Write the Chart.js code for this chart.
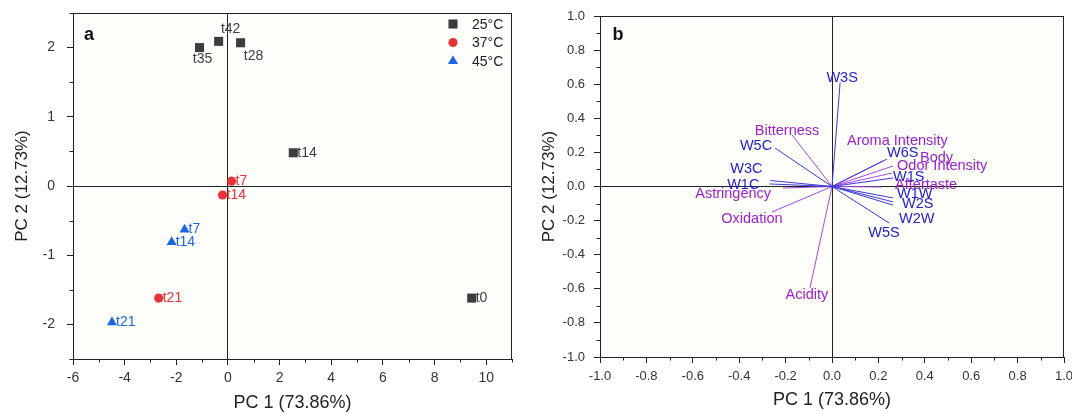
<!DOCTYPE html>
<html>
<head>
<meta charset="utf-8">
<script src="https://cdn.jsdelivr.net/npm/chart.js@4.4.1/dist/chart.umd.min.js"></script>
<style>
  body { margin: 0; background: #fff; width: 1072px; height: 414px; overflow: hidden; position: relative; }
  #scoreChart { position: absolute; left: 0; top: 0; }
  #loadChart { position: absolute; left: 530px; top: 0; }
</style>
</head>
<body>
<canvas id="scoreChart" width="530" height="414"></canvas>
<canvas id="loadChart" width="542" height="414"></canvas>
<script>
// --- panel a: sample scores ---
const tempLabels = ['25°C', '37°C', '45°C'];
const names25 = ['t0', 't14', 't28', 't35', 't42'];
const pc1_25 = [9.44, 2.53, 0.49, -1.10, -0.36];
const pc2_25 = [-1.62, 0.48, 2.07, 2.00, 2.09];
const names37 = ['t7', 't14', 't21'];
const pc1_37 = [0.14, -0.21, -2.68];
const pc2_37 = [0.07, -0.13, -1.62];
const names45 = ['t7', 't14', 't21'];
const pc1_45 = [-1.68, -2.18, -4.49];
const pc2_45 = [-0.63, -0.81, -1.97];
const xTicksA = [-6, -4, -2, 0, 2, 4, 6, 8, 10];
const yTicksA = [-2, -1, 0, 1, 2];

// --- panel b: loadings ---
const sensorNames = ['W3S', 'W5C', 'W3C', 'W1C', 'W5S', 'W2W', 'W2S', 'W1W', 'W1S', 'W6S'];
const sensorPC1 = [0.035, -0.245, -0.265, -0.27, 0.246, 0.263, 0.263, 0.263, 0.263, 0.237];
const sensorPC2 = [0.61, 0.225, 0.035, 0.015, -0.214, -0.109, -0.09, -0.067, 0.05, 0.161];
const sensoryNames = ['Bitterness', 'Astringency', 'Oxidation', 'Acidity', 'Aroma Intensity', 'Body', 'Odor Intensity', 'Aftertaste'];
const sensoryPC1 = [-0.172, -0.211, -0.259, -0.095, 0.22, 0.263, 0.259, 0.216];
const sensoryPC2 = [0.302, -0.009, -0.15, -0.595, 0.15, 0.12, 0.079, -0.003];
const ticksB = [-1.0, -0.8, -0.6, -0.4, -0.2, 0.0, 0.2, 0.4, 0.6, 0.8, 1.0];

const FONT = '"Liberation Sans", Arial, sans-serif';
const INK = '#222';
const colors = ['#3d3d3d', '#e8333a', '#1a66e0'];
const blueLine = '#3a3ad8', purpleLine = '#a24ae0';
const blueText = '#2323c8', purpleText = '#9b22c8';

// label placement: [align, dx, dy] in pixels from the point
const scorePlace = {
  '0:t28': ['center', 13, 13],
  '0:t35': ['center', 3, 12],
  '0:t42': ['center', 12, -12]
};
const loadPlace = {
  W3S: ['center', 2, -4], W5C: ['right', -3, -2], W3C: ['right', -8, -12],
  W1C: ['right', -10, 1], W5S: ['center', -5, 10], W2W: ['left', 6, 14],
  W2S: ['left', 9, 2], W1W: ['left', 4, -4], W1S: ['left', 0, -1],
  W6S: ['left', 0, -6], Bitterness: ['center', -5, -4], Astringency: ['right', -12, 6],
  Oxidation: ['center', -20, 7], Acidity: ['center', -3, 7],
  'Aroma Intensity': ['left', -36, -20], Body: ['left', 27, -8],
  'Odor Intensity': ['left', 5, -7], Aftertaste: ['left', 13, -2]
};

function pts(xs, ys) {
  return xs.map((x, i) => ({ x: x, y: ys[i] }));
}

function minorValues(min, max, step, majors) {
  const out = [];
  for (let k = 0; min + k * step <= max + 1e-9; k++) {
    const v = +(min + k * step).toFixed(4);
    if (!majors.some(m => Math.abs(m - v) < 1e-6)) out.push(v);
  }
  return out;
}

// frame, background, minor ticks
function framePlugin(minorX, minorY, letter, letterPos) {
  return {
    id: 'frame',
    beforeDraw(chart) {
      const { ctx, chartArea: a } = chart;
      ctx.save();
      ctx.fillStyle = '#fdfdf9';
      ctx.fillRect(a.left, a.top, a.right - a.left, a.bottom - a.top);
      ctx.restore();
    },
    afterDraw(chart) {
      const { ctx, chartArea: a, scales } = chart;
      ctx.save();
      ctx.strokeStyle = INK;
      ctx.lineWidth = 1;
      ctx.strokeRect(a.left + 0.5, a.top + 0.5, a.right - a.left - 1, a.bottom - a.top);
      ctx.beginPath();
      minorX.forEach(v => {
        const px = Math.round(scales.x.getPixelForValue(v)) + 0.5;
        ctx.moveTo(px, a.bottom);
        ctx.lineTo(px, a.bottom + 3.5);
      });
      minorY.forEach(v => {
        const py = Math.round(scales.y.getPixelForValue(v)) + 0.5;
        ctx.moveTo(a.left, py);
        ctx.lineTo(a.left - 3.5, py);
      });
      ctx.stroke();
      ctx.fillStyle = '#111';
      ctx.font = 'bold 18px ' + FONT;
      ctx.textAlign = 'center';
      ctx.textBaseline = 'middle';
      ctx.fillText(letter, letterPos[0], letterPos[1]);
      ctx.restore();
    }
  };
}

function axisOpts(ticks, min, max, titleText, titleSize, titlePad, tickSize, tickPad, fixed, fmt) {
  return {
    type: 'linear',
    min: min,
    max: max,
    afterBuildTicks: s => { s.ticks = ticks.map(v => ({ value: v })); },
    afterFit: s => {
      if (s.isHorizontal()) s.height = fixed; else s.width = fixed;
      // keep the plot box where the layout padding puts it
      s.paddingTop = 0; s.paddingBottom = 0; s.paddingLeft = 0; s.paddingRight = 0;
    },
    ticks: {
      color: '#333',
      font: { family: FONT, size: tickSize },
      padding: tickPad,
      autoSkip: false,
      maxRotation: 0,
      callback: fmt
    },
    grid: {
      drawOnChartArea: true,
      color: c => (c.tick && Math.abs(c.tick.value) < 1e-9 ? INK : 'rgba(0,0,0,0)'),
      tickColor: INK,
      tickLength: 6,
      lineWidth: 1
    },
    border: { display: true, color: INK },
    title: {
      display: true,
      text: titleText,
      color: INK,
      font: { family: FONT, size: titleSize },
      padding: titlePad
    }
  };
}

// ---------- panel a ----------
const scoreNames = [names25, names37, names45];
const scoreLabels = {
  id: 'scoreLabels',
  afterDatasetsDraw(chart) {
    const ctx = chart.ctx;
    ctx.save();
    ctx.font = '14px ' + FONT;
    ctx.textBaseline = 'middle';
    chart.data.datasets.forEach((ds, i) => {
      chart.getDatasetMeta(i).data.forEach((el, j) => {
        const name = scoreNames[i][j];
        const p = scorePlace[i + ':' + name] || ['left', 4, 0];
        ctx.fillStyle = colors[i];
        ctx.textAlign = p[0];
        ctx.fillText(name, el.x + p[1], el.y + p[2]);
      });
    });
    // legend
    chart.data.datasets.forEach((ds, i) => {
      const y = 24 + i * 18.5;
      ctx.fillStyle = ds.backgroundColor;
      ctx.strokeStyle = ds.backgroundColor;
      Chart.helpers.drawPoint(ctx, { pointStyle: ds.pointStyle, radius: ds.pointRadius, rotation: 0, borderWidth: 0 }, 453, y);
      ctx.fillStyle = INK;
      ctx.textAlign = 'left';
      ctx.fillText(ds.label, 472, y + 1);
    });
    ctx.restore();
  }
};

const scoreData = [pts(pc1_25, pc2_25), pts(pc1_37, pc2_37), pts(pc1_45, pc2_45)];
const styles = ['rect', 'circle', 'triangle'];
const radii = [6.4, 4.6, 5.8];

new Chart(document.getElementById('scoreChart'), {
  type: 'scatter',
  data: {
    datasets: scoreData.map((d, i) => ({
      label: tempLabels[i],
      data: d,
      pointStyle: styles[i],
      pointRadius: radii[i],
      backgroundColor: colors[i],
      borderColor: colors[i],
      borderWidth: 0
    }))
  },
  options: {
    responsive: false,
    devicePixelRatio: 1,
    animation: false,
    layout: { padding: { top: 13, right: 18, left: 0, bottom: 0 } },
    plugins: { legend: { display: false }, tooltip: { enabled: false } },
    scales: {
      x: axisOpts(xTicksA, -6, 11, 'PC 1 (73.86%)', 18, { top: 0, bottom: 0 }, 14, 5, 55, v => String(v)),
      y: axisOpts(yTicksA, -2.5, 2.5, 'PC 2 (12.73%)', 17, { top: 12, bottom: 0 }, 14, 12, 73, v => String(v))
    }
  },
  plugins: [framePlugin(minorValues(-6, 11, 1, xTicksA), minorValues(-2.5, 2.5, 0.5, yTicksA), 'a', [89, 35]), scoreLabels]
});

// ---------- panel b ----------
const vectors = [];
sensorNames.forEach((n, i) => vectors.push({ name: n, x: sensorPC1[i], y: sensorPC2[i], line: blueLine, text: blueText }));
sensoryNames.forEach((n, i) => vectors.push({ name: n, x: sensoryPC1[i], y: sensoryPC2[i], line: purpleLine, text: purpleText }));

const loadLabels = {
  id: 'loadLabels',
  afterDatasetsDraw(chart) {
    const ctx = chart.ctx;
    ctx.save();
    ctx.font = '14.5px ' + FONT;
    ctx.textBaseline = 'middle';
    vectors.forEach((v, i) => {
      const el = chart.getDatasetMeta(i).data[1];
      const p = loadPlace[v.name] || ['left', 3, 0];
      ctx.fillStyle = v.text;
      ctx.textAlign = p[0];
      ctx.fillText(v.name, el.x + p[1], el.y + p[2]);
    });
    ctx.restore();
  }
};

new Chart(document.getElementById('loadChart'), {
  type: 'scatter',
  data: {
    datasets: vectors.map(v => ({
      label: v.name,
      data: [{ x: 0, y: 0 }, { x: v.x, y: v.y }],
      showLine: true,
      borderColor: v.line,
      borderWidth: 1,
      pointRadius: 0
    }))
  },
  options: {
    responsive: false,
    devicePixelRatio: 1,
    animation: false,
    layout: { padding: { top: 16, right: 8, left: 0, bottom: 0 } },
    plugins: { legend: { display: false }, tooltip: { enabled: false } },
    scales: {
      x: axisOpts(ticksB, -1, 1, 'PC 1 (73.86%)', 18, { top: 0, bottom: 3 }, 13, 6, 57, v => v.toFixed(1)),
      y: axisOpts(ticksB, -1, 1, 'PC 2 (12.73%)', 17, { top: 9, bottom: 0 }, 13, 9, 70, v => v.toFixed(1))
    }
  },
  plugins: [framePlugin(minorValues(-1, 1, 0.1, ticksB), minorValues(-1, 1, 0.1, ticksB), 'b', [88, 35]), loadLabels]
});
</script>
</body>
</html>
